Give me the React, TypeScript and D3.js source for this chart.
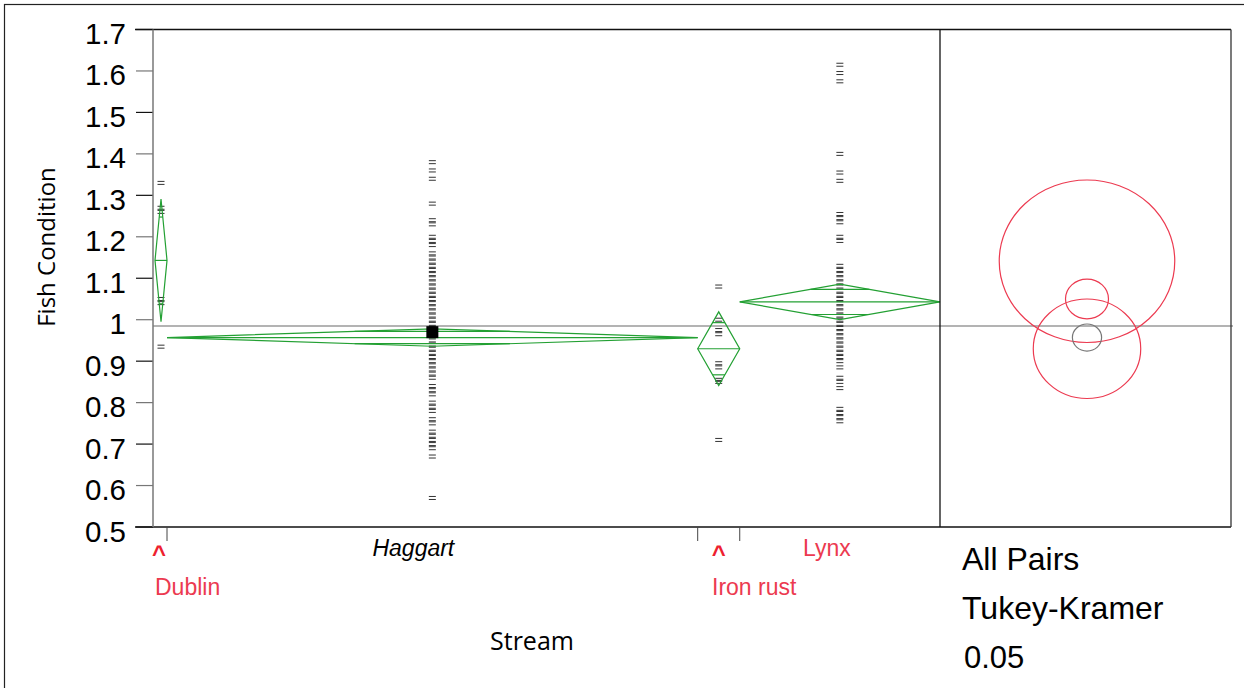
import React, { useRef, useEffect } from 'react';
import * as d3 from 'd3';

// groups along the x axis (width proportional to n, JMP style)
const streams = ['Dublin', 'Haggart', 'Iron rust', 'Lynx'];
const streamN = [6, 265, 21, 100];
const streamMean = [1.143, 0.957, 0.93, 1.043];
const streamCI = [0.148, 0.021, 0.089, 0.043];

// comparison circles (Tukey-Kramer)
const circleCenter = [1.141, 0.957, 0.93, 1.05];
const circleRadius = [0.196, 0.0326, 0.12, 0.048];
const circleRed = [true, false, true, true];

const dublinValues = [1.33, 1.27, 1.26, 1.05, 1.04, 0.935];
const haggartValues = [
  1.38, 1.36, 1.34, 1.28, 1.24, 1.23, 1.2, 1.19, 1.18, 1.16, 1.15, 1.14, 1.13, 1.12,
  1.11, 1.1, 1.09, 1.08, 1.07, 1.06, 1.05, 1.04, 1.03, 1.02, 1.01, 1.0, 0.99, 0.98,
  0.97, 0.96, 0.95, 0.94, 0.93, 0.92, 0.91, 0.9, 0.89, 0.88, 0.87, 0.86, 0.84, 0.83,
  0.82, 0.8, 0.79, 0.78, 0.76, 0.75, 0.73, 0.72, 0.71, 0.7, 0.69, 0.67, 0.57,
];
const ironRustValues = [1.08, 1.0, 0.975, 0.965, 0.895, 0.885, 0.855, 0.85, 0.71];
const lynxValues = [
  1.615, 1.595, 1.575, 1.4, 1.355, 1.335, 1.255, 1.245, 1.235, 1.2, 1.19, 1.13, 1.12,
  1.11, 1.1, 1.09, 1.08, 1.07, 1.06, 1.05, 1.04, 1.03, 1.02, 1.01, 1.0, 0.99, 0.98,
  0.97, 0.96, 0.95, 0.94, 0.93, 0.92, 0.91, 0.9, 0.885, 0.86, 0.85, 0.835, 0.785,
  0.775, 0.765, 0.755,
];
const streamValues = [dublinValues, haggartValues, ironRustValues, lynxValues];

const grandMean = 0.985;
const selectedStream = 'Haggart';
const selectedValue = 0.97;

const yTicks = [1.7, 1.6, 1.5, 1.4, 1.3, 1.2, 1.1, 1.0, 0.9, 0.8, 0.7, 0.6, 0.5];
const yTickLabels = ['1.7', '1.6', '1.5', '1.4', '1.3', '1.2', '1.1', '1', '0.9', '0.8', '0.7', '0.6', '0.5'];

const WIDTH = 1244;
const HEIGHT = 688;
const RED = '#ec3a50';
const GREEN = '#23a033';
const ARIAL = '"Liberation Sans", Arial, sans-serif';
const SANS = '"Open Sans", "Noto Sans", sans-serif';

const App = () => {
  const svgRef = useRef(null);

  useEffect(() => {
    const svg = d3.select(svgRef.current);
    svg.selectAll('*').remove();

    const plot = { left: 153, top: 29.5, bottom: 527, divider: 940, right: 1231 };

    const y = d3.scaleLinear().domain([0.5, 1.7]).range([plot.bottom, plot.top]);
    const cum = [0, ...d3.cumsum(streamN)];
    const x = d3.scaleLinear().domain([0, cum[cum.length - 1]]).range([155, plot.divider]);

    const groups = streams.map((name, i) => ({
      name,
      x0: x(cum[i]),
      x1: x(cum[i + 1]),
      cx: (x(cum[i]) + x(cum[i + 1])) / 2,
      mean: streamMean[i],
      ci: streamCI[i],
      values: streamValues[i],
    }));

    // outer frame
    svg.append('rect')
      .attr('x', 4.5).attr('y', 4.5)
      .attr('width', WIDTH + 20).attr('height', HEIGHT + 20)
      .attr('fill', 'none').attr('stroke', '#222').attr('stroke-width', 1.2);

    // grand mean
    svg.append('line')
      .attr('x1', plot.left).attr('x2', plot.right + 2)
      .attr('y1', y(grandMean)).attr('y2', y(grandMean))
      .attr('stroke', '#9a9a9a').attr('stroke-width', 1.5);

    // y ticks + labels
    yTicks.forEach((t, i) => {
      svg.append('line')
        .attr('x1', 136).attr('x2', plot.left)
        .attr('y1', y(t)).attr('y2', y(t))
        .attr('stroke', i % 2 ? '#777' : '#111').attr('stroke-width', 1.2);
      svg.append('text')
        .attr('x', 126).attr('y', y(t) + 14.5)
        .attr('text-anchor', 'end')
        .style('font-family', ARIAL).style('font-size', '29.5px').style('fill', '#000')
        .text(yTickLabels[i]);
    });

    // y title
    svg.append('text')
      .attr('transform', `translate(55, 247) rotate(-90)`)
      .attr('text-anchor', 'middle')
      .style('font-family', SANS).style('font-size', '24px').style('fill', '#000')
      .text('Fish Condition');

    // data marks: small "=" dashes
    groups.forEach(g => {
      g.values.forEach(v => {
        [-1.5, 1.5].forEach(off => {
          svg.append('line')
            .attr('x1', g.cx - 3.5).attr('x2', g.cx + 3.5)
            .attr('y1', y(v) + off).attr('y2', y(v) + off)
            .attr('stroke', '#333').attr('stroke-width', 1);
        });
      });
    });

    // means diamonds
    groups.forEach(g => {
      const top = y(g.mean + g.ci);
      const bot = y(g.mean - g.ci);
      const my = y(g.mean);
      const path = d3.path();
      path.moveTo(g.x0, my);
      path.lineTo(g.cx, top);
      path.lineTo(g.x1, my);
      path.lineTo(g.cx, bot);
      path.closePath();
      svg.append('path')
        .attr('d', path.toString())
        .attr('fill', 'none').attr('stroke', GREEN).attr('stroke-width', 1.2);
      svg.append('line')
        .attr('x1', g.x0).attr('x2', g.x1).attr('y1', my).attr('y2', my)
        .attr('stroke', GREEN).attr('stroke-width', 1.2);
      // overlap marks
      const hw = ((g.x1 - g.x0) / 2) * (1 - 1 / Math.SQRT2);
      [1, -1].forEach(s => {
        const oy = y(g.mean + (s * g.ci) / Math.SQRT2);
        svg.append('line')
          .attr('x1', g.cx - hw).attr('x2', g.cx + hw).attr('y1', oy).attr('y2', oy)
          .attr('stroke', GREEN).attr('stroke-width', 1.2);
      });
    });

    // selected point on top
    const sel = groups.find(g => g.name === selectedStream);
    svg.append('rect')
      .attr('x', sel.cx - 6).attr('y', y(selectedValue) - 6)
      .attr('width', 12).attr('height', 12)
      .attr('fill', '#000');

    // frame lines
    svg.append('line')
      .attr('x1', 135).attr('x2', plot.right).attr('y1', plot.top).attr('y2', plot.top)
      .attr('stroke', '#111').attr('stroke-width', 1.3);
    svg.append('line')
      .attr('x1', 135).attr('x2', plot.right).attr('y1', plot.bottom).attr('y2', plot.bottom)
      .attr('stroke', '#111').attr('stroke-width', 1.3);
    svg.append('line')
      .attr('x1', plot.left).attr('x2', plot.left).attr('y1', plot.top).attr('y2', plot.bottom)
      .attr('stroke', '#777').attr('stroke-width', 1.5);
    svg.append('line')
      .attr('x1', plot.divider).attr('x2', plot.divider).attr('y1', plot.top).attr('y2', plot.bottom)
      .attr('stroke', '#111').attr('stroke-width', 1.3);
    svg.append('line')
      .attr('x1', plot.right).attr('x2', plot.right).attr('y1', plot.top).attr('y2', plot.bottom)
      .attr('stroke', '#333').attr('stroke-width', 1.3);

    // x ticks at group boundaries
    cum.slice(1, -1).forEach(c => {
      svg.append('line')
        .attr('x1', x(c)).attr('x2', x(c)).attr('y1', plot.bottom).attr('y2', plot.bottom + 14)
        .attr('stroke', '#444').attr('stroke-width', 1);
    });

    // x labels
    const labelText = (txt, xx, yy, opts = {}) => {
      const t = svg.append('text')
        .attr('x', xx).attr('y', yy)
        .attr('text-anchor', opts.anchor || 'start')
        .style('font-family', opts.font || ARIAL)
        .style('font-size', opts.size || '23px')
        .style('fill', opts.fill || '#000')
        .text(txt);
      if (opts.italic) t.style('font-style', 'italic');
      if (opts.bold) t.style('font-weight', 'bold');
      return t;
    };
    const [gD, gH, gI, gL] = groups;
    labelText('^', gD.cx - 2, 562, { anchor: 'middle', fill: '#ee1f30', size: '24px', bold: true });
    labelText(gD.name, 155, 595, { fill: RED });
    labelText(gH.name, gH.cx - 19, 556, { anchor: 'middle', italic: true });
    labelText('^', gI.cx, 562, { anchor: 'middle', fill: '#ee1f30', size: '24px', bold: true });
    labelText(gI.name, 712, 595, { fill: RED });
    labelText(gL.name, gL.cx - 13, 556, { anchor: 'middle', fill: RED });

    labelText('Stream', 532, 650, { anchor: 'middle', font: SANS, size: '25px' });

    labelText('All Pairs', 962, 570, { size: '32px' });
    labelText('Tukey-Kramer', 962, 619, { size: '32px' });
    labelText('0.05', 964, 668, { size: '31px' });

    // comparison circles
    const cx = (plot.divider + plot.right) / 2 + 1.5;
    const pxPerUnit = y(0) - y(1);
    streams.forEach((s, i) => {
      const ry = circleRadius[i] * pxPerUnit;
      svg.append('ellipse')
        .attr('cx', cx).attr('cy', y(circleCenter[i]))
        .attr('rx', ry * 1.08).attr('ry', ry)
        .attr('fill', 'none')
        .attr('stroke', circleRed[i] ? RED : '#777')
        .attr('stroke-width', 1.2);
    });
  }, []);

  return (
    <svg
      ref={svgRef}
      width={WIDTH}
      height={HEIGHT}
      style={{ position: 'absolute', left: 0, top: 0, background: '#fff' }}
    />
  );
};

export default App;
